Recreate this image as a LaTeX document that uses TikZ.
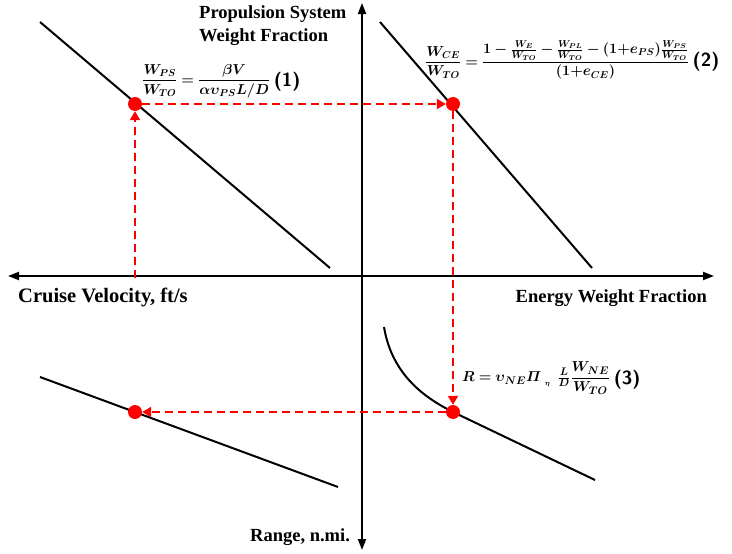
\documentclass[tikz,border=0pt]{standalone}
\usepackage{amsmath}
\usepackage{bm}
\usepackage{fontspec}
\setmainfont{Liberation Serif}
\usetikzlibrary{arrows.meta}
\begin{document}
\begin{tikzpicture}[x=1pt,y=-1pt,
  axis/.style={line width=2pt,-{Triangle[length=11pt,width=8pt]}},
  curveline/.style={line width=2pt},
  guide/.style={red,line width=2pt,dash pattern=on 8pt off 5pt,-{Triangle[length=9pt,width=10pt]}},
  dot/.style={circle,fill=red,inner sep=0pt,minimum size=14pt},
  lbl/.style={font=\bfseries\fontsize{18.5}{22}\selectfont,inner sep=0pt},
  eqtext/.style={inner sep=0pt,font=\fontsize{14}{16}\selectfont},
  numtext/.style={inner sep=0pt,font=\sffamily\bfseries\fontsize{19}{21}\selectfont}]
\useasboundingbox (0,0) rectangle (732,554);
% axes
\coordinate (o) at (362,276);
\coordinate (top) at (362,3);
\coordinate (bot) at (362,550);
\coordinate (lft) at (8,276);
\coordinate (rgt) at (714,276);
\draw[axis] (o) -- (top);
\draw[axis] (o) -- (bot);
\draw[axis] (o) -- (lft);
\draw[axis] (o) -- (rgt);
% curves
\coordinate (a1) at (40,22);
\coordinate (a2) at (330,268);
\coordinate (b1) at (380,22);
\coordinate (b2) at (592,268);
\coordinate (c1) at (40,377);
\coordinate (c2) at (338,487);
\coordinate (d1) at (384,327);
\coordinate (d2) at (595,480);
\draw[curveline] (a1) -- (a2);
\draw[curveline] (b1) -- (b2);
\draw[curveline] (c1) -- (c2);
\draw[curveline] (d1) .. controls (392,375) and (425,398) .. (453,412) -- (d2);
% dots
\node[dot] (p1) at (135,104) {};
\node[dot] (p2) at (453,104) {};
\node[dot] (p3) at (453,412) {};
\node[dot] (p4) at (135,412) {};
\coordinate (s0) at (135,278);
\draw[guide] (s0) -- (p1);
\draw[guide] (p1) -- (p2);
\draw[guide] (p2) -- (p3);
\draw[guide] (p3) -- (p4);
% labels
\node[lbl,align=left,anchor=north west] (ylab) at (199,5) {Propulsion System\\[1pt]Weight Fraction};
\node[lbl,anchor=west,font=\bfseries\fontsize{20.5}{24}\selectfont] (xlab) at (18,297) {Cruise Velocity, ft/s};
\node[lbl,anchor=east] (elab) at (707,298) {Energy Weight Fraction};
\node[lbl,anchor=west] (rlab) at (250,537) {Range, n.mi.};
% equations
\node[eqtext,anchor=west] (e1) at (142,81) {$\displaystyle\frac{\bm{W_{PS}}}{\bm{W_{TO}}}\bm{=}\frac{\bm{\beta V}}{\bm{\alpha\upsilon_{PS}L/D}}$};
\node[numtext,anchor=west] (n1) at ([yshift=-1pt]e1.east) {\,(1)};
\node[eqtext,anchor=west] (e2) at (425,60) {$\displaystyle\frac{\bm{W_{CE}}}{\bm{W_{TO}}}\bm{=}\frac{\bm{1-\frac{W_E}{W_{TO}}-\frac{W_{PL}}{W_{TO}}-(1{+}e_{PS})\frac{W_{PS}}{W_{TO}}}}{\bm{(1{+}e_{CE})}}$};
\node[numtext,anchor=west] (n2) at ([yshift=-2pt]e2.east) {\,(2)};
\node[eqtext,anchor=west,font=\fontsize{15}{17}\selectfont] (e3) at (462,378) {$\bm{R=\upsilon_{NE}\mathnormal{\Pi}_{\;{}_{\eta}}\;\,\frac{L}{D}}\displaystyle\frac{\bm{W_{NE}}}{\bm{W_{TO}}}$};
\node[numtext,anchor=west] (n3) at ([yshift=-2pt]e3.east) {\,(3)};
\end{tikzpicture}
\end{document}
